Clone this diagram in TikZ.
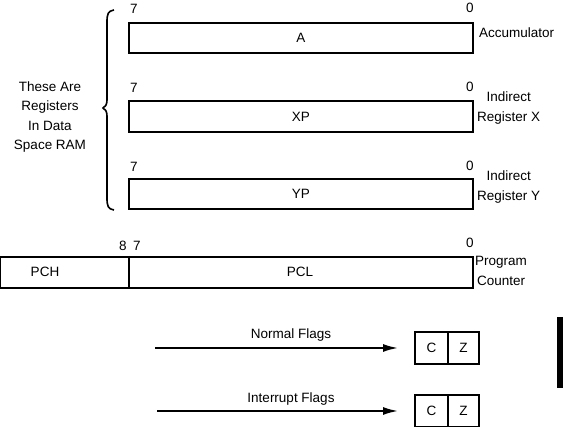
\documentclass[tikz,border=0pt]{standalone}
\usepackage{fontspec}
\setmainfont{Liberation Sans}
\usetikzlibrary{arrows.meta}
\begin{document}
\begin{tikzpicture}[x=1pt,y=-1pt,
  reg/.style={draw,line width=1.8pt,inner sep=0pt,anchor=north west,font=\fontsize{13.5}{15}\selectfont},
  lbl/.style={font=\fontsize{13.5}{15}\selectfont,inner sep=0pt},
  side/.style={font=\fontsize{13.5}{19.5}\selectfont,inner sep=0pt,align=center},
  flow/.style={line width=1.8pt,-{Latex[length=15pt,width=8pt]}}]
\useasboundingbox (0,0) rectangle (563,427);
% registers
\node[reg,minimum width=344pt,minimum height=30pt] (A) at (128,22) {};
\node[lbl] at (A.center) {A};
\node[reg,minimum width=344pt,minimum height=31pt] (XP) at (128,100) {};
\node[lbl] at (XP.center) {XP};
\node[reg,minimum width=344pt,minimum height=30pt] (YP) at (128,178) {};
\node[lbl] at (YP.center) {YP};
\foreach \r/\y in {A/9,XP/88,YP/167}{
  \node[lbl] (s\r) at (134,\y) {7};
  \node[lbl] (e\r) at (470,\y-1) {0};
}
\node[lbl,anchor=west] (accl) at (479,33) {Accumulator};
\node[side,anchor=west] (xl) at (477,108) {Indirect\\Register X};
\node[side,anchor=west] (yl) at (477,187) {Indirect\\Register Y};
% brace
\draw[line width=1.6pt] (114,10) .. controls (108,11) and (107,14) .. (107,22)
  -- (107,100) .. controls (107,105) and (105,107) .. (103,108)
  .. controls (105,109) and (107,111) .. (107,116)
  -- (107,198) .. controls (107,206) and (108,209) .. (114,210);
\node[side] (note) at (50,117) {These Are\\Registers\\In Data\\Space RAM};
% program counter
\node[reg,minimum width=473pt,minimum height=31pt] (PC) at (-1,256) {};
\coordinate (dtop) at (129,256);
\coordinate (dbot) at (129,287);
\draw[line width=1.8pt] (dtop) -- (dbot);
\node[lbl] (pch) at (45,272) {PCH};
\node[lbl] (pcl) at (300,272) {PCL};
\node[lbl] (b8) at (123,246) {8};
\node[lbl] (b7) at (137,246) {7};
\node[lbl] (b0) at (470,243) {0};
\node[side,anchor=west] (pcn) at (475,271) {Program\\Counter};
% flags
\foreach \n/\y in {nf/331,if/394}{
  \node[reg,minimum width=33pt,minimum height=32pt] (\n C) at (414,\y) {C};
  \node[reg,minimum width=31pt,minimum height=32pt] (\n Z) at (447,\y) {Z};
}
\coordinate (nfs) at (155,348);
\coordinate (nfe) at (398,348);
\coordinate (ifs) at (157,411);
\coordinate (ife) at (398,411);
\draw[flow] (nfs) -- (nfe);
\draw[flow] (ifs) -- (ife);
\node[lbl] (nft) at (291,335) {Normal Flags};
\node[lbl] (ift) at (291,399) {Interrupt Flags};
% side bar
\fill (557,317) rectangle (564,388);
\end{tikzpicture}
\end{document}
